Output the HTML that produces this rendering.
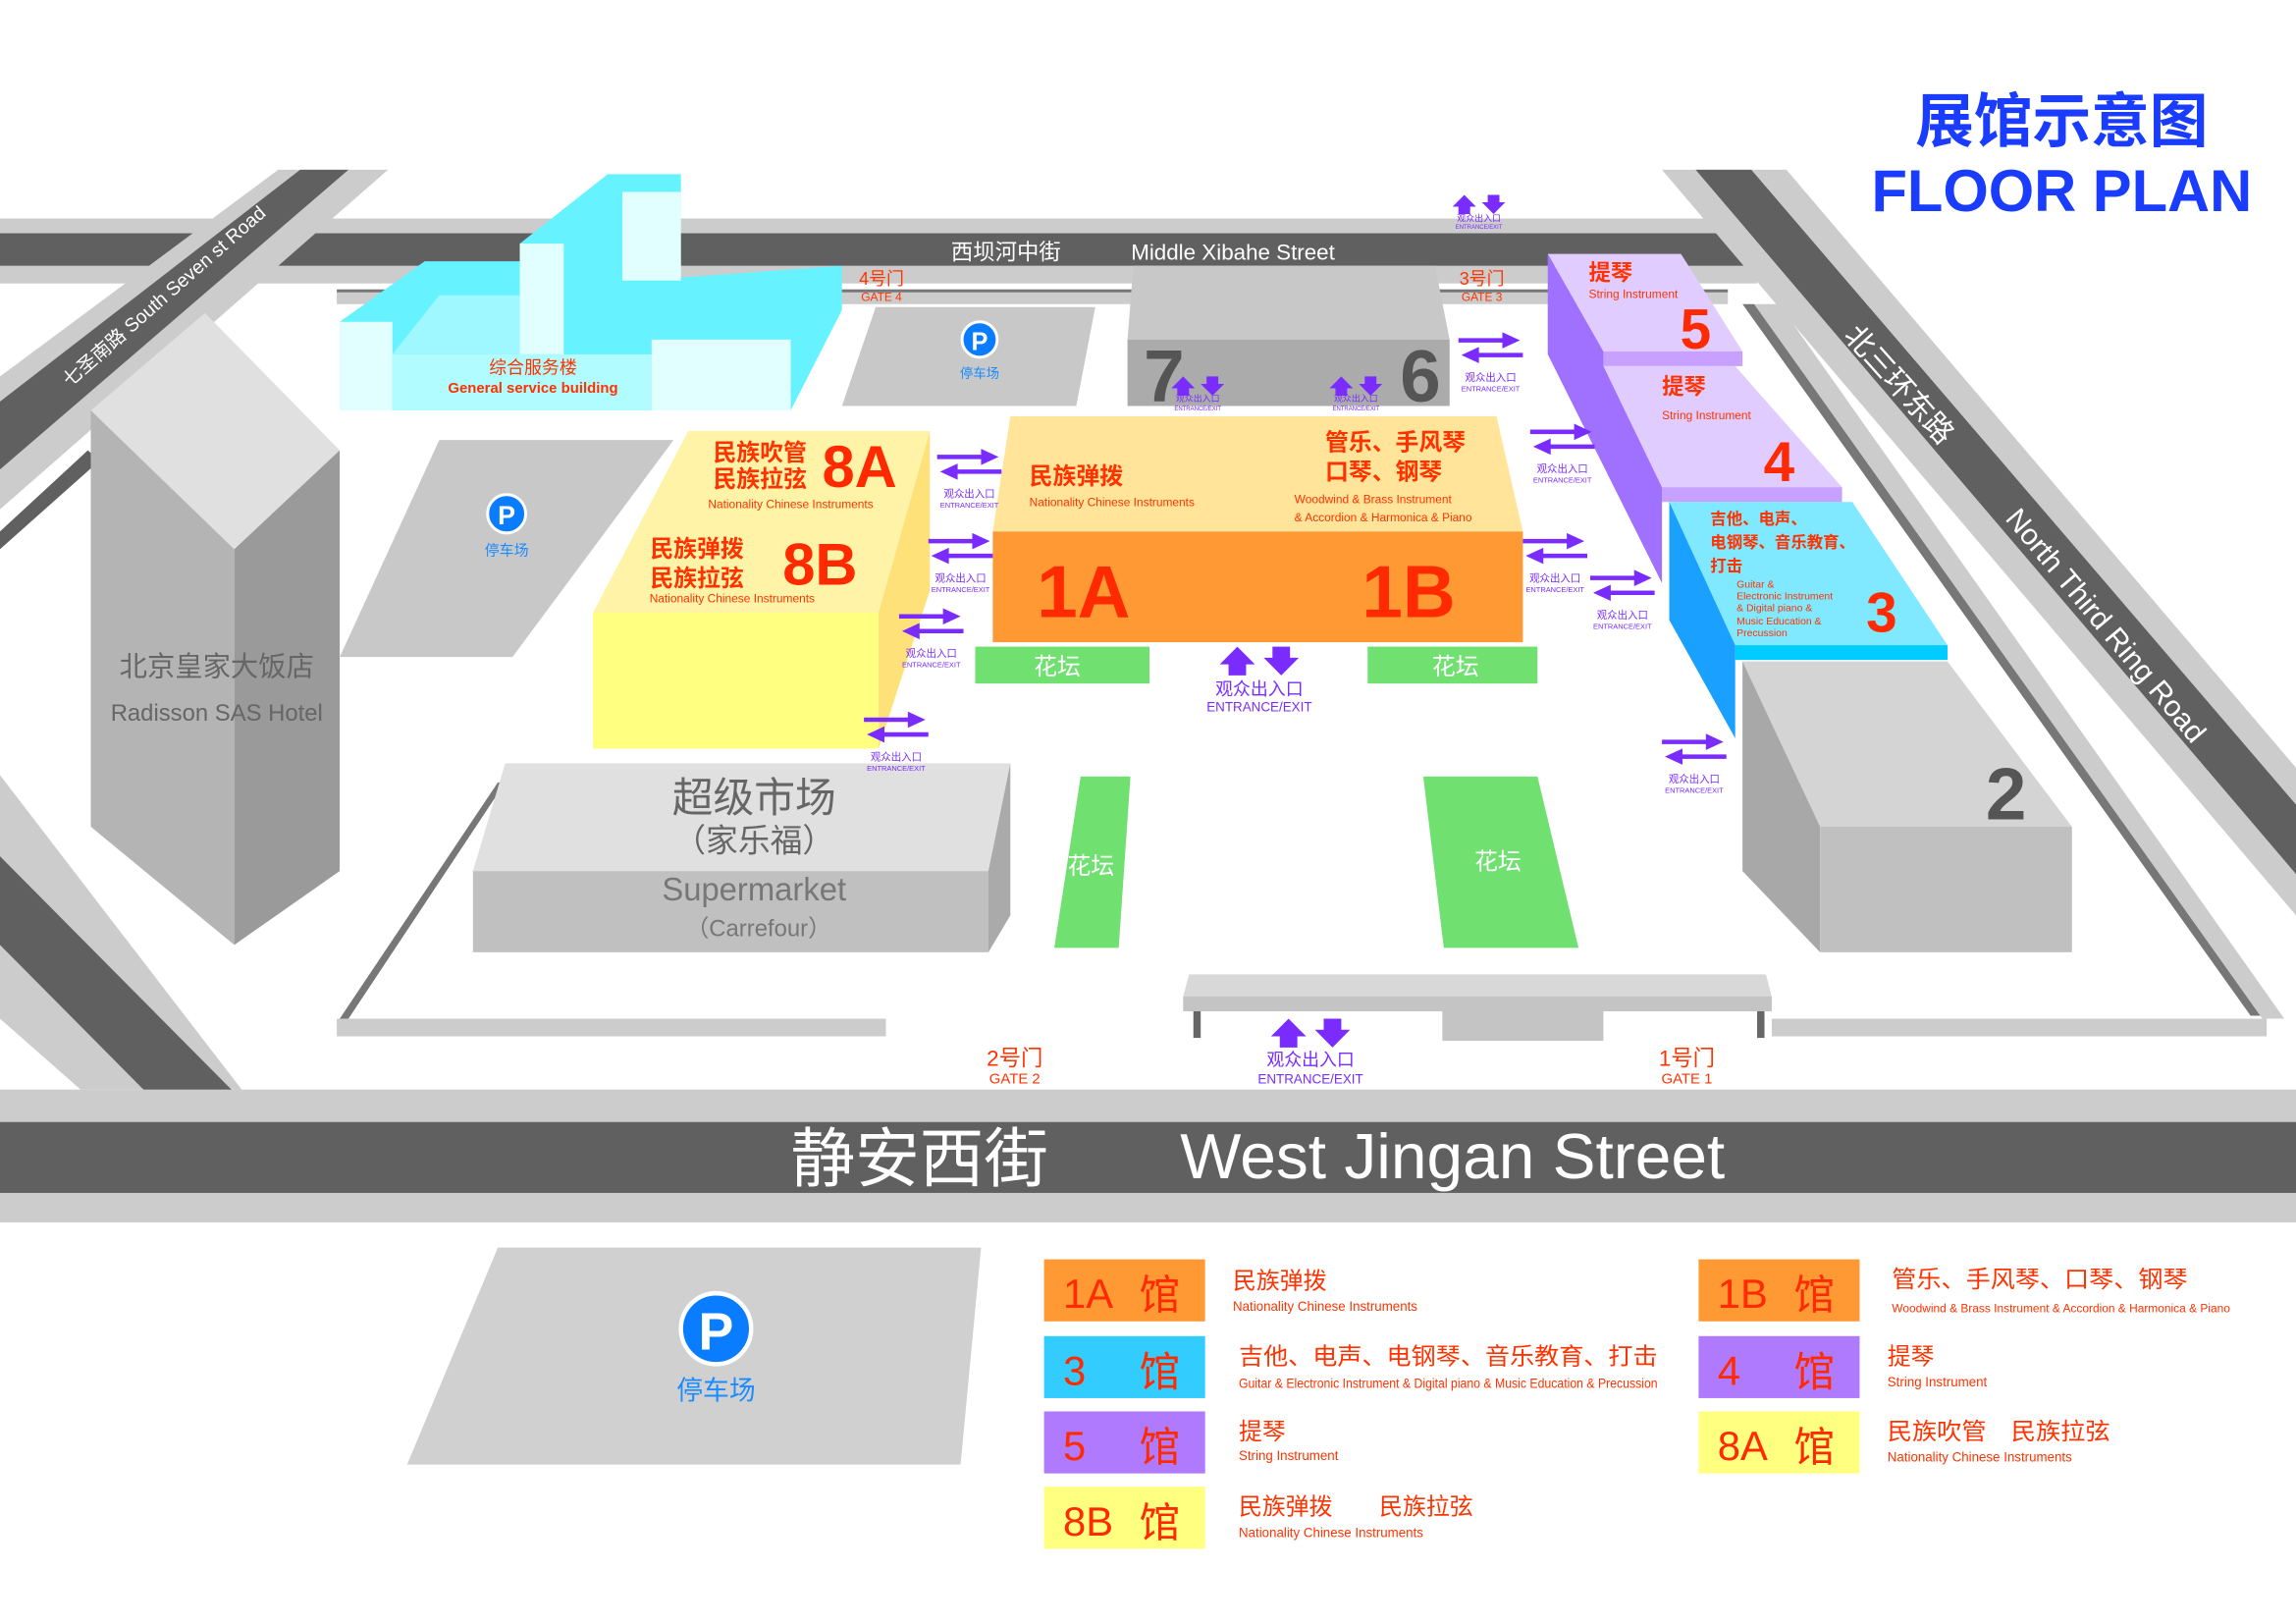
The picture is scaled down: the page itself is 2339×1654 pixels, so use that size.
<!DOCTYPE html>
<html><head><meta charset="utf-8"><style>
html,body{margin:0;padding:0;background:#fff;}
svg{display:block;}
text{font-family:"Liberation Sans","Noto Sans CJK SC",sans-serif;}
</style></head><body>
<svg width="2339" height="1654" viewBox="0 0 1568 1100" preserveAspectRatio="none" xmlns="http://www.w3.org/2000/svg">
<defs>
<g id="hx">
<path d="M-22,-7 h30 v-4 l12,5.5 l-12,5.5 v-4 h-30z" fill="#7a2cff"/>
<path d="M22,3 h-30 v-4 l-12,5.5 l12,5.5 v-4 h30z" fill="#7a2cff"/>
<text x="0" y="22" font-size="7" fill="#7a2cff" text-anchor="middle">观众出入口</text>
<text x="0" y="29" font-size="5" fill="#7a2cff" text-anchor="middle">ENTRANCE/EXIT</text>
</g>
<g id="ud">
<path d="M-18,0 l8,-8 l8,8 h-4 v5 h-8 v-5z" fill="#7a2cff"/>
<path d="M2,-3 l8,8 l8,-8 h-4 v-5 h-8 v5z" fill="#7a2cff"/>
</g>
</defs>
<rect width="1568" height="1100" fill="#fff"/>

<!-- top road -->
<rect x="0" y="148" width="1200" height="44" fill="#cccccc"/>
<rect x="0" y="158" width="1200" height="22" fill="#606060"/>
<!-- right diagonal road -->
<polygon points="1135,115 1220,115 1568,520 1568,620" fill="#cccccc"/>
<polygon points="1158,115 1196,115 1568,545 1568,592" fill="#606060"/>
<!-- left diagonal road -->
<polygon points="0,255 190,115 265,115 0,345" fill="#cccccc"/>
<polygon points="0,272 205,115 238,115 0,318" fill="#606060"/>
<polygon points="0,360 60,305 68,312 0,372" fill="#606060"/>
<!-- bottom-left diagonal road -->
<polygon points="0,525 0,690 55,738 165,738" fill="#cccccc"/>
<polygon points="0,580 0,640 120,760 180,760" fill="#606060"/>
<!-- inner curbs -->
<polygon points="230,197 1180,197 1180,206 230,206" fill="#cccccc"/>
<rect x="230" y="196" width="950" height="2" fill="#777"/>
<polygon points="1190,206 1198,206 1545,688 1537,688" fill="#777"/>
<polygon points="1198,206 1215,206 1560,690 1545,690" fill="#cccccc"/>
<polygon points="230,690 605,690 605,702 230,702" fill="#cccccc"/>
<polygon points="1210,690 1548,690 1548,702 1210,702" fill="#cccccc"/>
<polygon points="232,690 238,690 345,530 340,530" fill="#777"/>
<!-- bottom street -->
<rect x="0" y="738" width="1568" height="90" fill="#cccccc"/>
<rect x="0" y="760" width="1568" height="48" fill="#606060"/>
<text x="628" y="800" font-size="44" fill="#fff" text-anchor="middle">静安西街</text>
<text x="992" y="798" font-size="43" fill="#fff" text-anchor="middle" textLength="372" lengthAdjust="spacingAndGlyphs">West Jingan Street</text>
<text x="687" y="176" font-size="15" fill="#fff" text-anchor="middle">西坝河中街</text>
<text x="842" y="176" font-size="15" fill="#fff" text-anchor="middle">Middle Xibahe Street</text>
<text transform="translate(115,204) rotate(-41)" font-size="13" fill="#fff" text-anchor="middle">七圣南路   South Seven st  Road</text>

<!-- title -->
<text x="1408" y="96" font-size="40" font-weight="bold" fill="#1a3cff" text-anchor="middle">展馆示意图</text>
<text x="1408" y="143" font-size="40" font-weight="bold" fill="#1a3cff" text-anchor="middle">FLOOR PLAN</text>

<!-- hotel -->
<polygon points="62,278 140,212 232,305 160,372" fill="#e0e0e0"/>
<polygon points="62,278 160,372 160,640 62,560" fill="#b4b4b4"/>
<polygon points="160,372 232,305 232,590 160,640" fill="#9a9a9a"/>
<text x="148" y="458" font-size="19" fill="#666" text-anchor="middle">北京皇家大饭店</text>
<text x="148" y="488" font-size="16" fill="#666" text-anchor="middle">Radisson SAS Hotel</text>

<!-- parking left -->
<polygon points="300,298 460,298 350,445 232,445" fill="#c8c8c8"/>
<circle cx="346" cy="348" r="13" fill="#0a7cff" stroke="#fff" stroke-width="2"/>
<text x="346" y="355" font-size="18" font-weight="bold" fill="#fff" text-anchor="middle">P</text>
<text x="346" y="376" font-size="10" fill="#1a8cff" text-anchor="middle">停车场</text>

<!-- general service building -->
<polygon points="232,218 290,177 355,177 355,165 415,118 465,118 465,188 575,180 575,210 540,278 232,278" fill="#66f2ff"/>
<polygon points="268,240 300,200 355,200 355,240" fill="#9ff8ff"/>
<rect x="232" y="218" width="36" height="60" fill="#e2ffff"/>
<rect x="355" y="165" width="30" height="75" fill="#e2ffff"/>
<rect x="425" y="130" width="40" height="60" fill="#e2ffff"/>
<rect x="268" y="240" width="177" height="38" fill="#b0fcff"/>
<rect x="445" y="230" width="95" height="48" fill="#e2ffff"/>
<text x="364" y="253" font-size="12" fill="#ff3300" text-anchor="middle">综合服务楼</text>
<text x="364" y="266" font-size="10" font-weight="bold" fill="#ff3300" text-anchor="middle">General service building</text>

<!-- top middle parking -->
<polygon points="598,208 748,208 735,275 575,275" fill="#c8c8c8"/>
<circle cx="669" cy="230" r="12" fill="#0a7cff" stroke="#fff" stroke-width="2"/>
<text x="669" y="237" font-size="17" font-weight="bold" fill="#fff" text-anchor="middle">P</text>
<text x="669" y="256" font-size="9" fill="#1a8cff" text-anchor="middle">停车场</text>
<text x="602" y="193" font-size="12" fill="#ff3300" text-anchor="middle">4号门</text>
<text x="602" y="204" font-size="8" fill="#ff3300" text-anchor="middle">GATE 4</text>
<text x="1012" y="193" font-size="12" fill="#ff3300" text-anchor="middle">3号门</text>
<text x="1012" y="204" font-size="8" fill="#ff3300" text-anchor="middle">GATE 3</text>

<!-- 6/7 -->
<polygon points="774,180 980,180 990,230 770,230" fill="#c8c8c8"/>
<rect x="770" y="230" width="220" height="45" fill="#ababab"/>
<text x="795" y="272" font-size="50" font-weight="bold" fill="#555" text-anchor="middle">7</text>
<text x="970" y="272" font-size="50" font-weight="bold" fill="#555" text-anchor="middle">6</text>

<!-- 1A/1B -->
<polygon points="690,282 1022,282 1040,360 678,360" fill="#ffe49a"/>
<rect x="678" y="360" width="362" height="75" fill="#ff9933"/>
<text x="740" y="418" font-size="50" font-weight="bold" fill="#ff2a00" text-anchor="middle">1A</text>
<text x="962" y="418" font-size="50" font-weight="bold" fill="#ff2a00" text-anchor="middle">1B</text>
<text x="703" y="328" font-size="16" font-weight="bold" fill="#ff3300">民族弹拨</text>
<text x="703" y="343" font-size="8" fill="#ff3300">Nationality Chinese Instruments</text>
<text x="905" y="305" font-size="16" font-weight="bold" fill="#ff3300">管乐、手风琴</text>
<text x="905" y="325" font-size="16" font-weight="bold" fill="#ff3300">口琴、钢琴</text>
<text x="884" y="341" font-size="8" fill="#ff3300">Woodwind &amp; Brass Instrument</text>
<text x="884" y="353" font-size="8" fill="#ff3300">&amp; Accordion &amp; Harmonica &amp; Piano</text>

<!-- flower beds -->
<rect x="666" y="438" width="119" height="25" fill="#70e070"/>
<rect x="934" y="438" width="116" height="25" fill="#70e070"/>
<text x="722" y="457" font-size="16" fill="#fff" text-anchor="middle">花坛</text>
<text x="994" y="457" font-size="16" fill="#fff" text-anchor="middle">花坛</text>
<polygon points="738,526 772,526 764,642 720,642" fill="#70e070"/>
<polygon points="972,526 1050,526 1078,642 986,642" fill="#70e070"/>
<text x="745" y="592" font-size="16" fill="#fff" text-anchor="middle">花坛</text>
<text x="1023" y="589" font-size="16" fill="#fff" text-anchor="middle">花坛</text>

<!-- 8A/8B -->
<polygon points="470,292 635,292 600,415 405,415" fill="#fff3a8"/>
<polygon points="635,292 635,400 600,507 600,415" fill="#ffe17a"/>
<rect x="405" y="415" width="195" height="92" fill="#ffff80"/>
<text x="487" y="312" font-size="16" font-weight="bold" fill="#ff3300">民族吹管</text>
<text x="487" y="330" font-size="16" font-weight="bold" fill="#ff3300">民族拉弦</text>
<text x="587" y="330" font-size="40" font-weight="bold" fill="#ff2a00" text-anchor="middle">8A</text>
<text x="540" y="344" font-size="8" fill="#ff3300" text-anchor="middle">Nationality Chinese Instruments</text>
<text x="444" y="377" font-size="16" font-weight="bold" fill="#ff3300">民族弹拨</text>
<text x="444" y="397" font-size="16" font-weight="bold" fill="#ff3300">民族拉弦</text>
<text x="560" y="396" font-size="40" font-weight="bold" fill="#ff2a00" text-anchor="middle">8B</text>
<text x="500" y="408" font-size="8" fill="#ff3300" text-anchor="middle">Nationality Chinese Instruments</text>

<!-- supermarket -->
<polygon points="345,517 690,517 675,590 323,590" fill="#e0e0e0"/>
<rect x="323" y="590" width="352" height="55" fill="#c0c0c0"/>
<polygon points="675,590 690,517 690,620 675,645" fill="#aaa"/>
<text x="515" y="550" font-size="28" fill="#666" text-anchor="middle">超级市场</text>
<text x="515" y="577" font-size="22" fill="#666" text-anchor="middle">（家乐福）</text>
<text x="515" y="610" font-size="22" fill="#777" text-anchor="middle">Supermarket</text>
<text x="518" y="634" font-size="16" fill="#777" text-anchor="middle">（Carrefour）</text>

<!-- building 2 -->
<polygon points="1190,448 1330,448 1415,560 1243,560" fill="#d4d4d4"/>
<polygon points="1190,448 1243,560 1243,645 1190,590" fill="#a8a8a8"/>
<rect x="1243" y="560" width="172" height="85" fill="#c0c0c0"/>
<text x="1370" y="555" font-size="50" font-weight="bold" fill="#555" text-anchor="middle">2</text>

<!-- purple 5/4 and blue 3 -->
<polygon points="1057,172 1148,172 1190,238 1095,238" fill="#e0ccff"/>
<rect x="1095" y="238" width="95" height="10" fill="#c8a0ff"/>
<polygon points="1095,248 1185,248 1258,330 1135,330" fill="#e0ccff"/>
<rect x="1135" y="330" width="123" height="10" fill="#c8a0ff"/>
<polygon points="1057,172 1095,238 1095,248 1135,330 1135,395 1057,240" fill="#a070ff"/>
<polygon points="1140,340 1265,340 1330,437 1185,437" fill="#80e8ff"/>
<rect x="1185" y="437" width="145" height="10" fill="#00ccff"/>
<polygon points="1140,340 1185,437 1185,500 1140,420" fill="#1aa0ff"/>
<text x="1085" y="190" font-size="15" font-weight="bold" fill="#ff3300">提琴</text>
<text x="1085" y="202" font-size="8" fill="#ff3300">String Instrument</text>
<text x="1158" y="236" font-size="38" font-weight="bold" fill="#ff2a00" text-anchor="middle">5</text>
<text x="1135" y="267" font-size="15" font-weight="bold" fill="#ff3300">提琴</text>
<text x="1135" y="284" font-size="8" fill="#ff3300">String Instrument</text>
<text x="1215" y="326" font-size="38" font-weight="bold" fill="#ff2a00" text-anchor="middle">4</text>
<text x="1168" y="355" font-size="11" font-weight="bold" fill="#ff3300">吉他、电声、</text>
<text x="1168" y="371" font-size="11" font-weight="bold" fill="#ff3300">电钢琴、音乐教育、</text>
<text x="1168" y="387" font-size="11" font-weight="bold" fill="#ff3300">打击</text>
<text x="1186" y="398" font-size="7" fill="#ff3300">Guitar &amp;</text>
<text x="1186" y="406" font-size="7" fill="#ff3300">Electronic Instrument</text>
<text x="1186" y="414" font-size="7" fill="#ff3300">&amp; Digital piano &amp;</text>
<text x="1186" y="423" font-size="7" fill="#ff3300">Music Education &amp;</text>
<text x="1186" y="431" font-size="7" fill="#ff3300">Precussion</text>
<text x="1285" y="428" font-size="38" font-weight="bold" fill="#ff2a00" text-anchor="middle">3</text>
<text transform="translate(1292,265) rotate(48)" font-size="20" fill="#fff" text-anchor="middle">北三环东路</text>
<text transform="translate(1433,428) rotate(50)" font-size="20" fill="#fff" text-anchor="middle">North Third Ring Road</text>

<!-- exits -->
<use href="#hx" x="662" y="315"/>
<use href="#hx" x="656" y="372"/>
<use href="#hx" x="636" y="423"/>
<use href="#hx" x="612" y="493"/>
<use href="#hx" x="1018" y="236"/>
<use href="#hx" x="1067" y="298"/>
<use href="#hx" x="1062" y="372"/>
<use href="#hx" x="1108" y="397"/>
<use href="#hx" x="1157" y="508"/>
<use href="#ud" x="1010" y="140"/>
<text x="1010" y="150" font-size="6" fill="#7a2cff" text-anchor="middle">观众出入口</text>
<text x="1010" y="155" font-size="4" fill="#7a2cff" text-anchor="middle">ENTRANCE/EXIT</text>
<use href="#ud" x="818" y="263"/>
<text x="818" y="272" font-size="6" fill="#7a2cff" text-anchor="middle">观众出入口</text>
<text x="818" y="278" font-size="4" fill="#7a2cff" text-anchor="middle">ENTRANCE/EXIT</text>
<use href="#ud" x="926" y="263"/>
<text x="926" y="272" font-size="6" fill="#7a2cff" text-anchor="middle">观众出入口</text>
<text x="926" y="278" font-size="4" fill="#7a2cff" text-anchor="middle">ENTRANCE/EXIT</text>
<g transform="translate(860,450) scale(1.5)"><use href="#ud"/></g>
<text x="860" y="471" font-size="12" fill="#7a2cff" text-anchor="middle">观众出入口</text>
<text x="860" y="482" font-size="9" fill="#7a2cff" text-anchor="middle">ENTRANCE/EXIT</text>

<!-- bottom entrance -->
<polygon points="812,660 1206,660 1210,675 808,675" fill="#d8d8d8"/>
<rect x="808" y="675" width="402" height="10" fill="#c4c4c4"/>
<rect x="815" y="685" width="5" height="18" fill="#666"/>
<rect x="1200" y="685" width="5" height="18" fill="#666"/>
<rect x="985" y="685" width="110" height="20" fill="#c4c4c4"/>
<g transform="translate(895,702) scale(1.5)"><use href="#ud"/></g>
<text x="895" y="722" font-size="12" fill="#7a2cff" text-anchor="middle">观众出入口</text>
<text x="895" y="734" font-size="9" fill="#7a2cff" text-anchor="middle">ENTRANCE/EXIT</text>
<text x="693" y="722" font-size="15" fill="#ff3300" text-anchor="middle">2号门</text>
<text x="693" y="734" font-size="10" fill="#ff3300" text-anchor="middle">GATE 2</text>
<text x="1152" y="722" font-size="15" fill="#ff3300" text-anchor="middle">1号门</text>
<text x="1152" y="734" font-size="10" fill="#ff3300" text-anchor="middle">GATE 1</text>

<!-- bottom parking -->
<polygon points="340,845 670,845 656,992 278,992" fill="#d0d0d0"/>
<circle cx="489" cy="900" r="24" fill="#0a7cff" stroke="#fff" stroke-width="3"/>
<text x="489" y="914" font-size="36" font-weight="bold" fill="#fff" text-anchor="middle">P</text>
<text x="489" y="948" font-size="18" fill="#1a8cff" text-anchor="middle">停车场</text>

<!-- legend -->
<g font-size="28" fill="#ff2a00">
<rect x="713" y="853" width="110" height="42" fill="#ff9933"/>
<text x="726" y="886">1A</text><text x="778" y="887">馆</text>
<rect x="713" y="905" width="110" height="42" fill="#33ccff"/>
<text x="726" y="938">3</text><text x="778" y="939">馆</text>
<rect x="713" y="956" width="110" height="42" fill="#b07aff"/>
<text x="726" y="989">5</text><text x="778" y="990">馆</text>
<rect x="713" y="1007" width="110" height="42" fill="#ffff80"/>
<text x="726" y="1040">8B</text><text x="778" y="1041">馆</text>
<rect x="1160" y="853" width="110" height="42" fill="#ff9933"/>
<text x="1173" y="886">1B</text><text x="1225" y="887">馆</text>
<rect x="1160" y="905" width="110" height="42" fill="#b07aff"/>
<text x="1173" y="938">4</text><text x="1225" y="939">馆</text>
<rect x="1160" y="956" width="110" height="42" fill="#ffff80"/>
<text x="1173" y="989">8A</text><text x="1225" y="990">馆</text>
</g>
<g fill="#ff3300">
<text x="842" y="873" font-size="16">民族弹拨</text>
<text x="842" y="888" font-size="9" textLength="126" lengthAdjust="spacingAndGlyphs">Nationality Chinese Instruments</text>
<text x="846" y="924" font-size="16" textLength="286" lengthAdjust="spacingAndGlyphs">吉他、电声、电钢琴、音乐教育、打击</text>
<text x="846" y="940" font-size="9" textLength="286" lengthAdjust="spacingAndGlyphs">Guitar &amp; Electronic Instrument &amp; Digital piano &amp; Music Education &amp; Precussion</text>
<text x="846" y="975" font-size="16">提琴</text>
<text x="846" y="989" font-size="9" textLength="68" lengthAdjust="spacingAndGlyphs">String Instrument</text>
<text x="846" y="1026" font-size="16">民族弹拨　　民族拉弦</text>
<text x="846" y="1041" font-size="9" textLength="126" lengthAdjust="spacingAndGlyphs">Nationality Chinese Instruments</text>
<text x="1292" y="872" font-size="16" textLength="202" lengthAdjust="spacingAndGlyphs">管乐、手风琴、口琴、钢琴</text>
<text x="1292" y="889" font-size="8" textLength="231" lengthAdjust="spacingAndGlyphs">Woodwind &amp; Brass Instrument &amp; Accordion &amp; Harmonica &amp; Piano</text>
<text x="1289" y="924" font-size="16">提琴</text>
<text x="1289" y="939" font-size="9" textLength="68" lengthAdjust="spacingAndGlyphs">String Instrument</text>
<text x="1289" y="975" font-size="16" textLength="152" lengthAdjust="spacingAndGlyphs">民族吹管　民族拉弦</text>
<text x="1289" y="990" font-size="9" textLength="126" lengthAdjust="spacingAndGlyphs">Nationality Chinese Instruments</text>
</g>
</svg>
</body></html>
